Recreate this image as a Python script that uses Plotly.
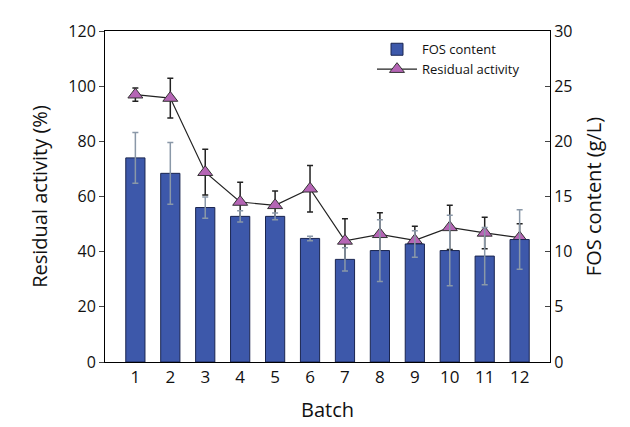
import plotly.graph_objects as go

batch = [str(i) for i in range(1, 13)]
fos = [18.5, 17.1, 14.0, 13.2, 13.2, 11.2, 9.3, 10.1, 10.7, 10.1, 9.6, 11.1]
fos_err = [2.3, 2.8, 0.96, 0.5, 0.3, 0.2, 1.06, 2.8, 1.2, 3.2, 2.6, 2.7]
activity = [96.9, 95.7, 68.8, 58.0, 56.8, 62.8, 43.9, 46.3, 44.1, 48.8, 46.8, 45.1]
activity_err = [2.4, 7.2, 8.3, 7.2, 5.2, 8.4, 8.0, 7.8, 5.1, 8.0, 5.7, 5.0]

fig = go.Figure()
fig.add_trace(go.Bar(x=batch, y=fos, name="FOS content", yaxis="y2",
                     marker=dict(color="#3d58aa", line=dict(color="#1a2550", width=1)),
                     error_y=dict(type="data", array=fos_err, color="#8a98a8", thickness=1.5, width=3),
                     width=0.55))
fig.add_trace(go.Scatter(x=batch, y=activity, name="Residual activity", mode="lines+markers",
                         line=dict(color="#222222", width=1.2),
                         marker=dict(symbol="triangle-up", size=13, color="#b565b5",
                                     line=dict(color="#333333", width=1)),
                         error_y=dict(type="data", array=activity_err, color="#222222", thickness=1.5, width=3)))

fig.update_layout(
    width=630, height=427, plot_bgcolor="white", paper_bgcolor="white",
    font=dict(family="Open Sans, Liberation Sans, sans-serif", size=16, color="#111111"),
    margin=dict(l=97, r=88, t=20, b=73),
    showlegend=True,
    legend=dict(x=0.6, y=0.99, bgcolor="rgba(0,0,0,0)", font=dict(size=13),
                itemwidth=40, traceorder="normal"),
    xaxis=dict(title=dict(text="Batch", font=dict(size=20)), showline=True, linecolor="black",
               mirror=True, ticks="", tickfont=dict(size=17)),
    yaxis=dict(title=dict(text="Residual activity (%)", font=dict(size=20)), range=[0, 120],
               dtick=20, showline=True, linecolor="black", ticks="outside", showgrid=False,
               zeroline=False, tickfont=dict(size=16)),
    yaxis2=dict(title=dict(text="FOS content (g/L)", font=dict(size=20)), range=[0, 30], dtick=5,
                overlaying="y", side="right", showline=True, linecolor="black", ticks="inside",
                showgrid=False, zeroline=False, tickfont=dict(size=16)),
)
fig.write_html("out.html")
